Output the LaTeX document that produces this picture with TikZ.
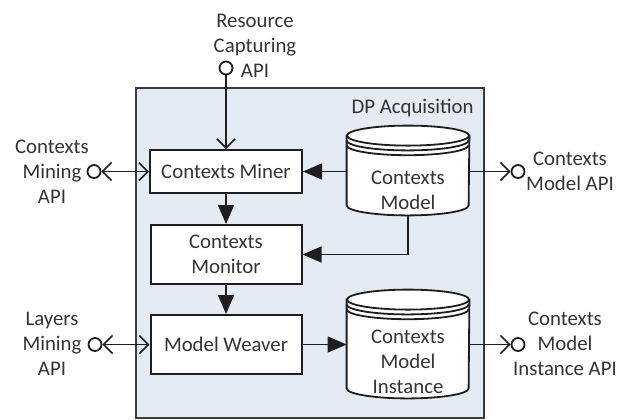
\documentclass[tikz,border=0pt]{standalone}
\usepackage{fontspec}
\setmainfont{Carlito}
\usetikzlibrary{arrows.meta}
\definecolor{panel}{HTML}{E5EBF5}
\definecolor{ink}{HTML}{1E1E1E}
\definecolor{frame}{HTML}{3A3A3A}
\definecolor{txt}{HTML}{333333}
\tikzset{
  lbl/.style={font=\fontsize{10.4pt}{12.5pt}\selectfont, text=txt, align=center, inner sep=0pt},
  procbox/.style={lbl, draw=ink, line width=1pt, fill=white},
  cylspan/.style={rectangle, inner sep=0pt, minimum width=61pt},
  cylst/.style={draw=ink, line width=0.9pt, fill=white},
  lolli/.style={circle, draw=ink, line width=0.9pt, minimum size=6.5pt, inner sep=0pt, fill=white},
  fillarr/.style={draw=ink, line width=0.8pt, -{Triangle[length=9.5pt,width=8pt]}},
  openarr/.style={draw=ink, line width=0.8pt, -{Straight Barb[length=4.5pt,width=9pt]}},
  bothopen/.style={draw=ink, line width=0.8pt, {Straight Barb[length=4.5pt,width=9pt]}-{Straight Barb[length=4.5pt,width=9pt]}},
}
\newcommand\drawcylinder[1]{%
  \draw[cylst] ([yshift=-5pt]#1.north west) -- ([yshift=5pt]#1.south west)
     arc[start angle=180,end angle=360,x radius=30.5pt,y radius=5pt]
     -- ([yshift=-5pt]#1.north east) -- cycle;
  \draw[cylst] ([yshift=-5pt]#1.north) ellipse[x radius=30.5pt,y radius=5pt];
  \draw[draw=ink, line width=0.9pt] ([yshift=-7.4pt]#1.north west)
     arc[start angle=180,end angle=360,x radius=30.5pt,y radius=5pt];
  \draw[draw=ink, line width=0.9pt] ([yshift=-9.8pt]#1.north west)
     arc[start angle=180,end angle=360,x radius=30.5pt,y radius=5pt];
}
\begin{document}
\begin{tikzpicture}[x=0.5pt,y=-0.5pt]
\useasboundingbox (0,0) rectangle (630,419);

% outer component
\node[rectangle, draw=frame, line width=1pt, fill=panel, minimum width=174pt,
      minimum height=165pt, anchor=north west, inner sep=0pt] (dp) at (135,87) {};
\node[lbl, anchor=east] (dptitle) at (474,108) {DP Acquisition};

% cylinders
\node[cylspan, minimum height=44.5pt] (cm) at (408,170.5) {};
\node[cylspan, minimum height=54pt] (cmi) at (408,344) {};
\drawcylinder{cm}
\drawcylinder{cmi}
\node[lbl] (cmtext) at (408,190) {Contexts\\Model};
\node[lbl] (cmitext) at (408,362) {Contexts\\Model\\Instance};

% process boxes
\node[procbox, minimum width=76pt, minimum height=21.5pt] (miner) at (226,171.5) {Contexts Miner};
\node[procbox, minimum width=75.5pt, minimum height=29.5pt] (monitor) at (226,254.5) {Contexts\\Monitor};
\node[procbox, minimum width=75.5pt, minimum height=29.5pt] (weaver) at (226,344.5) {Model Weaver};

% interface circles
\node[lolli] (rcapi) at (226,68) {};
\node[lolli] (cmapi) at (94,171.5) {};
\node[lolli] (lmapi) at (95,344.5) {};
\node[lolli] (cmodapi) at (518,171.5) {};
\node[lolli] (cmiapi) at (518,344.5) {};

% interface labels
\node[lbl] (rcapiL) at (255,46) {Resource\\Capturing\\API};
\node[lbl] (cmapiL) at (52,172) {Contexts\\Mining\\API};
\node[lbl] (lmapiL) at (52,344) {Layers\\Mining\\API};
\node[lbl] (cmodapiL) at (570,171.5) {Contexts\\Model API};
\node[lbl] (cmiapiL) at (565,344) {Contexts\\Model\\Instance API};

% connectors
\draw[openarr] (rcapi.south) -- (miner.north);
\draw[bothopen] (cmapi.east) -- (miner.west);
\draw[bothopen] (lmapi.east) -- (weaver.west);
\draw[fillarr] (miner.east -| cm.west) -- (miner.east);
\draw[openarr] (miner.east -| cm.east) -- (cmodapi.west);
\draw[fillarr] (cm.south) -- (cm.south |- monitor.east) -- (monitor.east);
\draw[fillarr] (miner.south) -- (monitor.north);
\draw[fillarr] (monitor.south) -- (weaver.north);
\draw[fillarr] (weaver.east) -- (weaver.east -| cmi.west);
\draw[openarr] (weaver.east -| cmi.east) -- (cmiapi.west);
\end{tikzpicture}
\end{document}
